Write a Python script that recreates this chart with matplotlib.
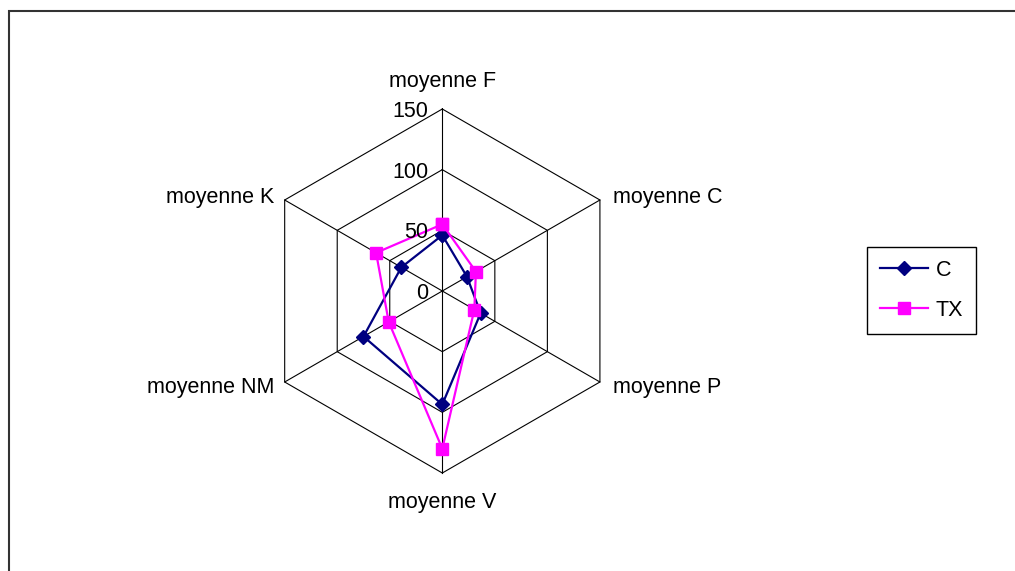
import numpy as np
import matplotlib
matplotlib.use("Agg")
import matplotlib.pyplot as plt
from matplotlib.patches import Rectangle

# values
categories = ["moyenne F", "moyenne C", "moyenne P", "moyenne V", "moyenne NM", "moyenne K"]
series_c = [46, 23.5, 36.5, 93.5, 75, 39]
series_tx = [55, 32, 30.5, 130, 51, 63]
ring_levels = [0, 50, 100, 150]

plt.rcParams["font.family"] = ["Liberation Sans", "DejaVu Sans"]
plt.rcParams["font.size"] = 15.5

W, H = 1015, 571
fig = plt.figure(figsize=(W / 100, H / 100), dpi=100)

# polar axes placed so that the centre / outer ring match the reference
cx, cy, R = 442.3, 291, 182
ax = fig.add_axes([(cx - R) / W, (H - cy - R) / H, 2 * R / W, 2 * R / H], projection="polar")
ax.set_theta_zero_location("N")
ax.set_theta_direction(-1)
ax.set_ylim(0, ring_levels[-1])
ax.grid(False)
ax.set_xticks([])
ax.set_yticks([])
ax.spines["polar"].set_visible(False)
ax.patch.set_visible(False)

n = len(categories)
theta = np.arange(n) * 2 * np.pi / n
theta_closed = np.append(theta, theta[0])

# hexagonal grid + spokes
for lv in ring_levels[1:]:
    ax.plot(theta_closed, [lv] * (n + 1), color="black", lw=0.8, clip_on=False)
for t in theta:
    ax.plot([t, t], [0, ring_levels[-1]], color="black", lw=0.8, clip_on=False)

# series
ax.plot(theta_closed, series_c + series_c[:1], color="#000080", lw=1.6,
        marker="D", ms=7, label="C", clip_on=False)
ax.plot(theta_closed, series_tx + series_tx[:1], color="#FF00FF", lw=1.6,
        marker="s", ms=8.5, label="TX", clip_on=False)

# category labels
offsets = [(0, 22), (13, -3), (13, -11), (0, -35), (-10, -11), (-10, -3)]
aligns = ["center", "left", "left", "center", "right", "right"]
for cat, t, off, ha in zip(categories, theta, offsets, aligns):
    ax.annotate(cat, xy=(t, ring_levels[-1]), xytext=off, textcoords="offset pixels",
                ha=ha, va="baseline", annotation_clip=False)

# radial tick labels
for lv in ring_levels:
    ax.annotate(str(lv), xy=(0, lv), xytext=(-14, 0), textcoords="offset pixels",
                ha="right", va="center_baseline", annotation_clip=False)

leg = fig.legend(loc="upper left", bbox_to_anchor=(867 / W, 1 - 247 / H),
                 borderaxespad=0, frameon=True, fancybox=False, edgecolor="black",
                 framealpha=1, handlelength=2.25, handletextpad=0.35,
                 borderpad=0.6, labelspacing=0.88)
leg.get_frame().set_linewidth(1.0)

# chart area border (runs off the right and bottom edges)
fig.add_artist(Rectangle((8.5 / W, -0.1), 1.2, (H - 10.5) / H + 0.1,
                         transform=fig.transFigure, fill=False,
                         edgecolor="#333333", lw=1.5))

fig.savefig("out.png", dpi=100)
